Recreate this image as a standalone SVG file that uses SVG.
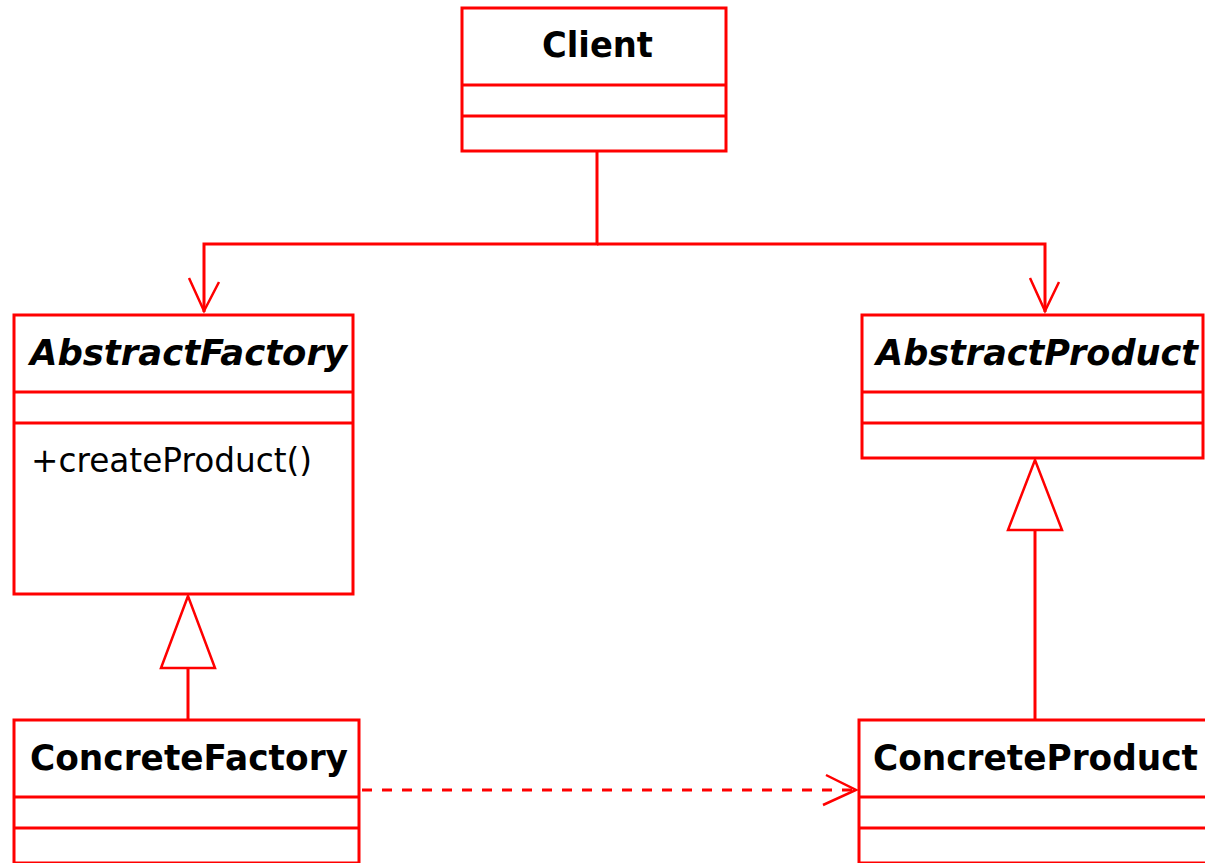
<svg xmlns="http://www.w3.org/2000/svg" width="1205" height="863" viewBox="0 0 1205 863">
  <style>
    .box { fill: #ffffff; stroke: #ff0000; stroke-width: 3; }
    .div { stroke: #ff0000; stroke-width: 3; fill: none; }
    .conn { stroke: #ff0000; stroke-width: 3; fill: none; }
    .dash { stroke: #ff0000; stroke-width: 3; fill: none; stroke-dasharray: 10 10; }
    .head { stroke: #ff0000; stroke-width: 2.5; fill: none; }
    .tri { stroke: #ff0000; stroke-width: 2.5; fill: #ffffff; }
    .name { font-family: "DejaVu Sans", Verdana, sans-serif; font-size: 35px; font-weight: bold; fill: #000000; }
    .abstract { font-style: italic; }
    .op { font-family: "DejaVu Sans", Verdana, sans-serif; font-size: 33px; fill: #000000; }
  </style>

  <!-- connectors -->
  <g id="connectors">
    <!-- Client uses both abstractions -->
    <polyline class="conn" points="597,151 597,244 204,244 204,312"/>
    <polyline class="conn" points="597,244 1045,244 1045,312"/>
    <polyline class="head" points="189,278 204,311 219,282"/>
    <polyline class="head" points="1030,278 1045,311 1059,282"/>
    <!-- ConcreteFactory generalizes AbstractFactory -->
    <line class="conn" x1="188" y1="668" x2="188" y2="720"/>
    <polygon class="tri" points="188,596 161,668 215,668"/>
    <!-- ConcreteProduct generalizes AbstractProduct -->
    <line class="conn" x1="1035" y1="530" x2="1035" y2="720"/>
    <polygon class="tri" points="1035,460 1008,530 1062,530"/>
    <!-- ConcreteFactory creates ConcreteProduct -->
    <line class="dash" x1="362" y1="790" x2="855" y2="790"/>
    <polyline class="head" points="826,775 856,790 823,805"/>
  </g>

  <g id="client">
    <rect class="box" x="462" y="8" width="264" height="143"/>
    <line class="div" x1="462" y1="85" x2="726" y2="85"/>
    <line class="div" x1="462" y1="116" x2="726" y2="116"/>
    <text class="name" x="542" y="57" textLength="111" lengthAdjust="spacingAndGlyphs">Client</text>
  </g>

  <g id="abstract-factory">
    <rect class="box" x="14" y="315" width="339" height="279"/>
    <line class="div" x1="14" y1="392" x2="353" y2="392"/>
    <line class="div" x1="14" y1="423" x2="353" y2="423"/>
    <text class="name abstract" x="30" y="365" textLength="317" lengthAdjust="spacingAndGlyphs">AbstractFactory</text>
    <text class="op" x="31" y="472" textLength="281" lengthAdjust="spacingAndGlyphs">+createProduct()</text>
  </g>

  <g id="abstract-product">
    <rect class="box" x="862" y="315" width="341" height="143"/>
    <line class="div" x1="862" y1="392" x2="1203" y2="392"/>
    <line class="div" x1="862" y1="423" x2="1203" y2="423"/>
    <text class="name abstract" x="876" y="365" textLength="322" lengthAdjust="spacingAndGlyphs">AbstractProduct</text>
  </g>

  <g id="concrete-factory">
    <rect class="box" x="14" y="720" width="345" height="143"/>
    <line class="div" x1="14" y1="797" x2="359" y2="797"/>
    <line class="div" x1="14" y1="828" x2="359" y2="828"/>
    <text class="name" x="30" y="770" textLength="318" lengthAdjust="spacingAndGlyphs">ConcreteFactory</text>
  </g>

  <g id="concrete-product">
    <rect class="box" x="859" y="720" width="350" height="143"/>
    <line class="div" x1="859" y1="797" x2="1209" y2="797"/>
    <line class="div" x1="859" y1="828" x2="1209" y2="828"/>
    <text class="name" x="873" y="770" textLength="325" lengthAdjust="spacingAndGlyphs">ConcreteProduct</text>
  </g>
</svg>
